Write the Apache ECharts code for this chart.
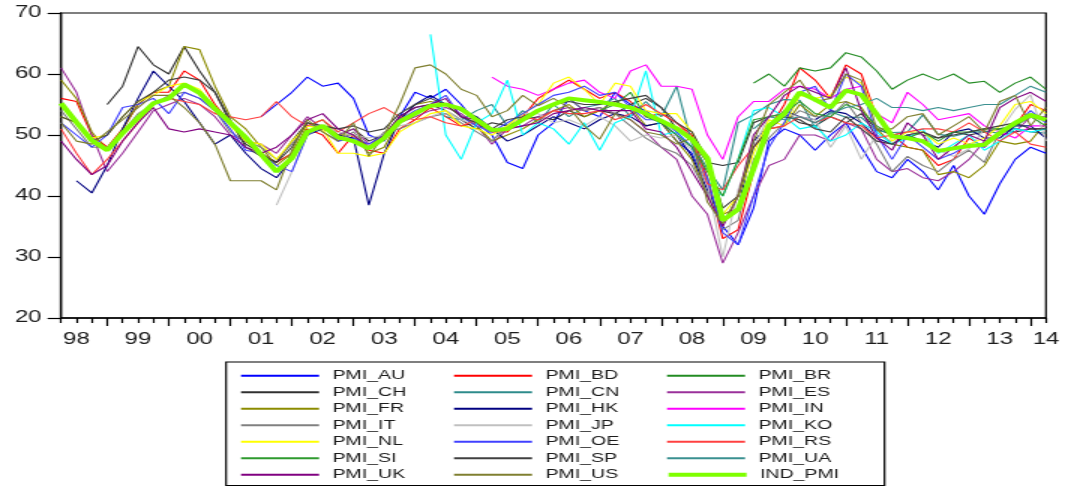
<!DOCTYPE html>
<html>
<head>
<meta charset="utf-8">
<title>PMI</title>
<script src="https://cdn.jsdelivr.net/npm/echarts@6/dist/echarts.min.js"></script>
<style>
  html, body { margin: 0; padding: 0; background: #fff; overflow: hidden; }
  #wrap { width: 1068px; height: 486px; overflow: hidden; }
  /* the chart is laid out narrow and widened as a whole, which gives the wide lettering */
  #chart { width: 712px; height: 486px; transform: scaleX(1.5); transform-origin: 0 0; }
</style>
</head>
<body>
<div id="wrap"><div id="chart"></div></div>
<script>
// Monthly index counted from Jan 1998; series are sampled every quarter from Apr 1998.
const MONTH0 = 3;      // Apr 1998
const STEP = 3;        // months between samples
const X_MAX = 195;     // Apr 2014

const YEAR_LABELS = ['98','99','00','01','02','03','04','05','06','07','08','09','10','11','12','13','14'];
const Y_TICKS = [20, 30, 40, 50, 60, 70];

// quarter index (0 = Apr 1998) of each series' first sample
const START_AU = 13, START_BR = 45, START_CH = 3, START_CN = 25, START_HK = 1, START_IN = 28,
      START_JP = 14, START_KO = 24, START_SI = 35, START_UA = 45;

const PMI_AU = [53,55,57,59.5,58,58.5,56,50,49,53, 57,56,57.5,55,52,50,45.5,44.5,50,52,
  56,54,53,57,55,54,52,49,47,42, 35,32,38,49,51,50,47.5,50,52,48, 44,43,46,44,41,45,40,37,42,46, 48,47];
const PMI_BD = [56,55.5,50,48,51,55,57,57,60.5,59, 55,52,49,47,45.5,47,51,50,47,50,
  47.5,47,51,52.5,54.5,53,51.5,52,50.5,50.5, 53,56,57.5,59,57.5,56,57,55.5,53,53.5,
  52,50,43,33,34.5,44,51,55,61,59, 56,61.5,60,53,50,48,47.5,45,46,49.5, 48,50.5,51.5,55,54];
const PMI_BR = [58.5,60,58,61,60.5,61,63.5,62.8,60.5,57.5, 59,60,59,60,58.5,58.8,57,58.5,59.5,57.5];
const PMI_CH = [55,58,64.5,61.5,60,64.5,60.5,57,52,48.5, 47,45.5,49,52,51,50,51,49,50,53,
  54.5,55,54,52.5,51,52,51.5,52.5,53,52.5, 54,53,54,53.5,55,56,54.5,51,49,45.5,
  45,45.5,52,53,53.5,52,51.5,53,52,53.5, 51,50,50.5,50,49.5,50.5,50,50.5,51,50.5, 51,51];
const PMI_CN = [53,52.5,54,55,51.5,54,52,55,53,54.5, 55,56,53,55.5,53,58,48.5,44.5,41,52,
  53.3,55,55.8,55.7,51.2,53.8,52.9,52.9,50.7,50.4, 50.5,53.3,50.1,49.8,50.4,50.6,50.3,51.1,50.5,50.3];
const PMI_ES = [61,57,50,44,47,50.5,54,55,56,55, 53,50,49,48.5,47,50,53,51,50,51,
  48.5,50,52,53,54,54.5,53.5,51.5,48.5,51, 51.5,53,54,54.5,54,54.5,53.5,52.5,50.5,48,
  46,40,37,29,34,40,45,46,50,50, 49,52,51,46,44,44.5,43,42.5,44,46, 49,50,50.5,53,53];
const PMI_FR = [59,56,50.5,47.5,51,55,57,58,64.5,64, 58,53,51,48,45,47,51.5,52.5,50,50,
  47,48,52.5,55,55.5,55,53,51.5,49,50, 51,52.5,54,55,53,54,55.5,54.5,51.5,52,
  49,46,40,37,38,45,51,51.5,55,53, 55,55.5,54.5,51,48.5,48,47.5,43.5,44,43, 45,49,48.5,49,52];
const PMI_HK = [42.5,40.5,45,51,56,60.5,58,55.5,52,48.5, 50,47,44.5,43,46,50,51,50,49.5,38.5,
  47,52.5,55,56.5,55,54,53,51,49,50, 51.5,53,52,51,52.5,53.5,53,51.5,52,50,
  46.5,41,36,38,49,51.5,54,53,52.5,54, 53.5,52,49.5,48.5,50,49,48,50.5,51,49.5, 49.5,51.5,51.5,49.5];
const PMI_IN = [59.5,58,57.5,56.5,57.5,58.5,59,57,56,60.5, 61.5,58,58,57.5,50,46,53,55.5,55.5,57.5,
  58,57.5,56,57.5,58,53.5,52,57,55,52.5, 53,53.5,51.5,50.5,49.5,51.5,51.5];
const PMI_IT = [54,51,48,48,50.5,53.5,55,56.5,57,56, 54,50.5,49,48,46,48.5,52,50.5,49,50.5,
  48,50.5,51,52,53,53.5,52,50.5,49,51.5, 52.5,54,55,56,54,54.5,53.5,51.5,49.5,48,
  47,45,40.5,34.5,36,46,49.5,52,54,53, 53,55.5,52,48.5,44,46.5,45,44,46,47.5, 45.5,50.5,51.5,53,52.5];
const PMI_JP = [38.5,44,50,51.5,50.5,50,49.5,50,51.5,52, 53,54,52.5,51.5,50.5,51.5,53.5,53.5,52,52.5,
  51.5,53,51.5,49,50,49.5,50,47.5,42,30, 41,48,53,53.5,53,52.5,48,51.5,46,50,
  49,50.5,50,47.5,46.5,47.7,51,50.7,54.2,56.6,49];
const PMI_KO = [66.5,50,46,52,53.5,59,50,52,51,48.5, 52,47.5,52,53,60.5,50,50.5,48,42.5,40,
  46,54,54.5,53,51,51.5,49,50,52,50.5, 48.5,49.5,51,47,48.5,50,47.5,49,51,50.5,51];
const PMI_NL = [53,52,49.5,50,53,55.5,56.5,58,58.5,57.5, 54.5,51.5,49,48.5,46,49,51.5,51,47,47,
  46.5,47,50.5,52,53.5,54,51.5,51,50,51.5, 53.5,55,58.5,59.5,57.5,55,58.5,58,54,53.5,
  53.5,50.5,45.5,37,40,47,52.5,51.5,56.5,56, 56.5,59.5,58.5,53.5,49,50.5,50.5,48.5,49.5,48.5, 49.5,51.5,55,55.5,53.5];
const PMI_OE = [52,50,48,50,54.5,55,56,53.5,57,56, 54,51,47.5,47,45,44,50,51.5,49,49.5,
  48.5,50,52.5,54,55,56.5,53,51.5,50.5,52, 53.5,55,56.5,57,58,56.5,57,54.5,52.5,52.5,
  50.5,48,43,34,32,40,48,52,57,58, 54,60,58,50,46,50,48,46,47,48.5, 48,50.5,51.5,54,52];
const PMI_RS = [51,47,43.5,46,49,52,55,56,55.5,55, 53.5,53,52.5,53,55.5,53,51.5,52.5,50.5,52,
  53.5,54.5,53,52.5,53,52,51.5,52.5,51,51, 53,52.5,54,53.5,53.5,54,52.5,53.5,55,53.5,
  52,49.5,42,41,45,48,51,51.5,53,52, 53,52,51.5,49.5,50,50.5,51,51,50.5,52, 50.5,49,50.5,48.5,48];
const PMI_SI = [54,55,57,53,52,50,48,44,40,46, 52.5,53,53.5,55.5,53.5,53,55,54,51.5,50,
  49.5,50.5,49,50.5,50.5,51,51,51.5,53,51.5];
const PMI_SP = [53,52,49,50,53,55.5,57,59,59.5,59, 57,52.5,48,46.5,45.5,48,52,51.5,51,51.5,
  50.5,51,53.5,55,56,55,53,52,51,52.5, 53,54,55,55.5,55,55,55.5,56,56.5,54.5,
  52,50.5,46,38,40,48,51,53,52.5,51, 50.5,53,51,49,48.5,50,50.5,49.5,50,50.5, 51,51.5,52,51,51];
const PMI_UA = [51,53,52.5,53,52,53.5,54.5,55,56,54.5, 54.5,54,54.5,54,54.5,55,55,56.5,58,57];
const PMI_UK = [49,46,43.5,45,49,52,54.5,51,50.5,51, 50.5,50,48,47,48,50,52.5,53.5,51,50,
  48,50,53,54.5,55,56,53,52.5,50.5,51, 51.5,52,53.5,54,54.5,54,54,54,51,50.5,
  48,44,40,35,40,50,53,56.5,58,57, 56,61,54,49.5,47.5,52,50,46,48,50, 49,54.5,56,57,55.5];
const PMI_US = [52,49,48.5,50.5,52.5,54.5,56.5,56.5,54.5,52, 48.5,42.5,42.5,42.5,41,47.5,52.5,50.5,49,52,
  46.5,50,55,61,61.5,60,57.5,56.5,53,54, 56.5,54.8,56,54.5,51.5,49.3,53.5,52.5,50.5,50,
  48.5,49.5,39,35.5,40,49,55,57,59,55.5, 56,60,59,51,51,53,53.5,50,51.5,53, 50.5,55.5,56.5,51.5,54.5];
const IND_PMI = [55.2,52.1,49.1,47.5,50.3,52.8,55.2,56,58.3,56.9, 54.3,52,49.6,46.8,44,46.2,50.5,51.5,49.6,49,
  47.8,49.5,52.2,53.5,54.8,55,54.3,52.5,50.8,51, 52.5,54,55,56,55.7,55.4,55,54.5,53.5,52.3,
  51.1,49.3,46.2,36,37.8,44.5,51.5,53.5,57,55.8, 54.5,57.3,56.6,53.4,49.8,49.5,49,47.4,47.8,48.2, 48.4,50.3,52,53.3,52.5];

const SERIES = [
  ['PMI_AU', PMI_AU, START_AU, '#0000ff'],
  ['PMI_BD', PMI_BD, 0, '#ff0000'],
  ['PMI_BR', PMI_BR, START_BR, '#228b22'],
  ['PMI_CH', PMI_CH, START_CH, '#303030'],
  ['PMI_CN', PMI_CN, START_CN, '#2e8b8b'],
  ['PMI_ES', PMI_ES, 0, '#9a309a'],
  ['PMI_FR', PMI_FR, 0, '#8b8b00'],
  ['PMI_HK', PMI_HK, START_HK, '#000080'],
  ['PMI_IN', PMI_IN, START_IN, '#ff00ff'],
  ['PMI_IT', PMI_IT, 0, '#808080'],
  ['PMI_JP', PMI_JP, START_JP, '#c0c0c0'],
  ['PMI_KO', PMI_KO, START_KO, '#00ffff'],
  ['PMI_NL', PMI_NL, 0, '#ffff00'],
  ['PMI_OE', PMI_OE, 0, '#4040ff'],
  ['PMI_RS', PMI_RS, 0, '#ff4040'],
  ['PMI_SI', PMI_SI, START_SI, '#2e9a2e'],
  ['PMI_SP', PMI_SP, 0, '#404040'],
  ['PMI_UA', PMI_UA, START_UA, '#3a9090'],
  ['PMI_UK', PMI_UK, 0, '#800080'],
  ['PMI_US', PMI_US, 0, '#7f7f30'],
  ['IND_PMI', IND_PMI, 0, '#7fff00']
];

const THICK = 'IND_PMI';

function toPoints(start, values) {
  return values.map((v, k) => [MONTH0 + STEP * (start + k), v]);
}

const yearTicks = [];
for (let m = 12; m < X_MAX; m += 12) yearTicks.push(m);
const quarterTicks = [];
for (let m = MONTH0; m <= X_MAX; m += 3) if (m % 12 !== 0) quarterTicks.push(m);
const labelPos = [];
for (let m = 6; m < X_MAX - 6; m += 12) labelPos.push(m);
labelPos.push(X_MAX);

const FONT = '"Liberation Sans", Arial, sans-serif';
const INK = '#1c1c1c';

const chart = echarts.init(document.getElementById('chart'), null, { width: 712, height: 486 });
chart.setOption({
  animation: false,
  backgroundColor: '#ffffff',
  grid: {
    left: 40.7, right: 14.7, top: 13, bottom: 168,
    show: true, borderColor: '#000', borderWidth: 1.2, backgroundColor: 'transparent'
  },
  xAxis: [
    {
      type: 'value', min: MONTH0, max: X_MAX, position: 'bottom',
      axisLine: { show: true, onZero: false, lineStyle: { color: '#000', width: 1.5 } },
      axisTick: { show: true, customValues: yearTicks, length: 8, lineStyle: { color: '#000', width: 1.2 } },
      axisLabel: { show: false },
      splitLine: { show: false }
    },
    {
      type: 'value', min: MONTH0, max: X_MAX, position: 'bottom',
      axisLine: { show: false },
      axisTick: { show: true, customValues: quarterTicks, length: 5, lineStyle: { color: '#000', width: 1.2 } },
      axisLabel: {
        show: true, customValues: labelPos, margin: 14,
        fontSize: 16, fontFamily: FONT, color: INK,
        formatter: v => YEAR_LABELS[Math.floor(v / 12)]
      },
      splitLine: { show: false }
    }
  ],
  yAxis: {
    type: 'value', min: Y_TICKS[0], max: Y_TICKS[Y_TICKS.length - 1], interval: 10,
    axisLine: { show: true, onZero: false, lineStyle: { color: '#000', width: 1.3 } },
    axisTick: { show: true, inside: false, length: 9, lineStyle: { color: '#000', width: 1.2 } },
    axisLabel: { fontSize: 16, fontFamily: FONT, color: INK, margin: 13 },
    splitLine: { show: false }
  },
  legend: {
    left: 150.7, top: 362, width: 440,
    orient: 'horizontal',
    itemWidth: 52, itemHeight: 13, itemGap: 3,
    padding: [7, 6, 4, 9],
    borderColor: '#000', borderWidth: 1.2, backgroundColor: '#fff',
    itemStyle: { opacity: 0 },
    textStyle: { fontSize: 13, fontFamily: FONT, color: INK, width: 77, lineHeight: 13.5, padding: [0, 0, 0, 4] },
    data: SERIES.map(s => s[0] === THICK ? { name: s[0], lineStyle: { width: 4 } } : s[0])
  },
  series: SERIES.map(([name, values, start, color]) => ({
    name,
    type: 'line',
    xAxisIndex: 0,
    symbol: 'none',
    data: toPoints(start, values),
    lineStyle: { color, width: name === THICK ? 4 : 1.1 },
    itemStyle: { color },
    z: name === THICK ? 5 : 2
  }))
});
</script>
</body>
</html>
